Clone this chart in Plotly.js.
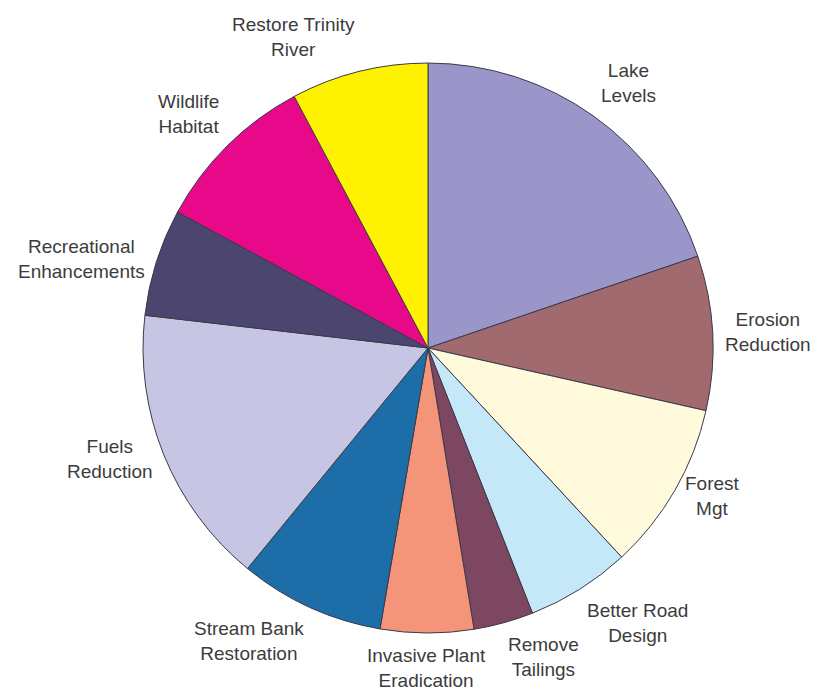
<!DOCTYPE html>
<html>
<head>
<meta charset="utf-8">
<script src="https://cdn.plot.ly/plotly-3.0.1.min.js"></script>
<style>html,body{margin:0;padding:0;background:#fff;}#chart{width:814px;height:691px;}</style>
</head>
<body>
<div id="chart"></div>
<script>
const categories = ["Lake Levels", "Erosion Reduction", "Forest Mgt", "Better Road Design", "Remove Tailings", "Invasive Plant Eradication", "Stream Bank Restoration", "Fuels Reduction", "Recreational Enhancements", "Wildlife Habitat", "Restore Trinity River"];
const labelText = ["Lake<br>Levels", "Erosion<br>Reduction", "Forest<br>Mgt", "Better Road<br>Design", "Remove<br>Tailings", "Invasive Plant<br>Eradication", "Stream Bank<br>Restoration", "Fuels<br>Reduction", "Recreational<br>Enhancements", "Wildlife<br>Habitat", "Restore Trinity<br>River"];
const values = [71.2, 31.5, 34.5, 21.3, 12.2, 19.0, 29.6, 57.3, 21.9, 33.5, 28.0];
const colors = ["#9b96ca", "#a06a6e", "#fefadb", "#c5e8f8", "#7d4761", "#f4957a", "#1d6ea8", "#c6c5e4", "#4b456f", "#e8098b", "#fff200"];

const W = 814, H = 691;
const domX = [0.1757, 0.8759], domY = [0.0839, 0.9088];
const cxPx = (domX[0] + domX[1]) / 2 * W;
const cyPx = (1 - (domY[0] + domY[1]) / 2) * H;
const rPx = Math.min((domX[1] - domX[0]) * W, (domY[1] - domY[0]) * H) / 2;
const labelR = rPx + 11;

const total = values.reduce((a, b) => a + b, 0);
let cum = 0;
const annotations = values.map((v, i) => {
  const mid = (cum + v / 2) / total * 2 * Math.PI;
  cum += v;
  const s = Math.sin(mid), c = Math.cos(mid);
  const px = cxPx + labelR * s, py = cyPx - labelR * c;
  return {
    x: px / W, y: 1 - py / H, xref: "paper", yref: "paper",
    text: labelText[i], showarrow: false,
    xanchor: Math.abs(s) < 0.1 ? "center" : (s > 0 ? "left" : "right"),
    yanchor: Math.abs(c) < 0.6 ? "middle" : (c > 0 ? "bottom" : "top"),
    align: "center", borderpad: 0,
    font: {family: "Liberation Sans, Arial, sans-serif", size: 19, color: "#3c3c3c"}
  };
});

const trace = {
  type: "pie",
  labels: categories,
  values: values,
  sort: false,
  direction: "clockwise",
  rotation: 0,
  marker: {colors: colors, line: {color: "#3a3a4a", width: 1}},
  textinfo: "none",
  hoverinfo: "label+value",
  showlegend: false,
  domain: {x: domX, y: domY}
};
const layout = {
  width: W, height: H,
  margin: {l: 0, r: 0, t: 0, b: 0},
  paper_bgcolor: "#ffffff",
  showlegend: false,
  annotations: annotations
};
Plotly.newPlot("chart", [trace], layout, {staticPlot: true});
</script>
</body>
</html>
